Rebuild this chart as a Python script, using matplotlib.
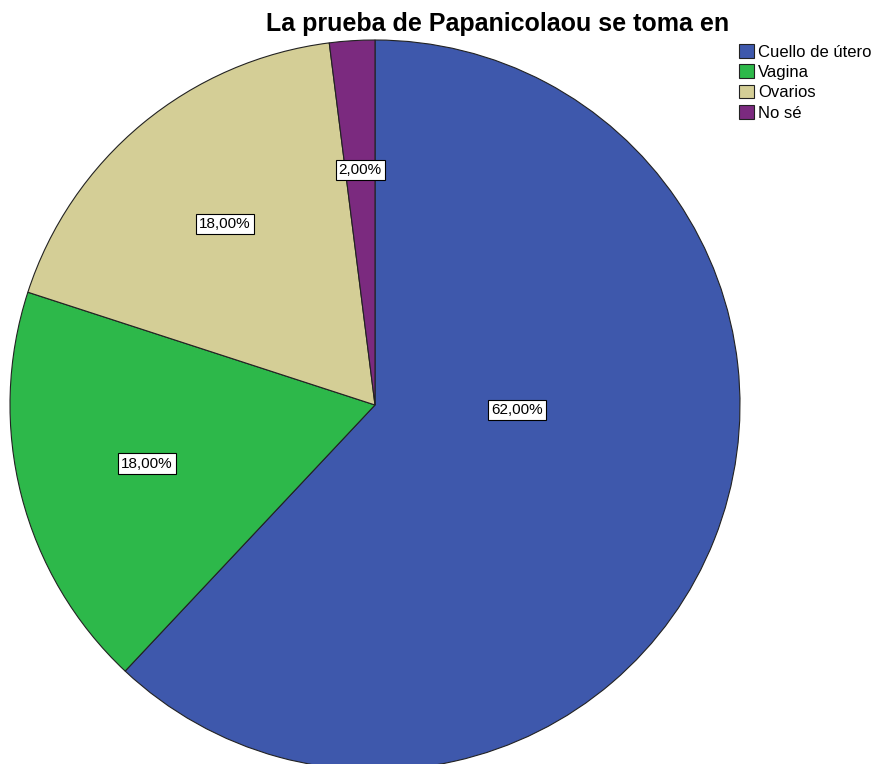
import matplotlib.pyplot as plt
import numpy as np

plt.rcParams['font.family'] = ['Liberation Sans', 'DejaVu Sans']

categorias = ['Cuello de útero', 'Vagina', 'Ovarios', 'No sé']
porcentajes = [62, 18, 18, 2]
colores = ['#3E58AC', '#2DB84A', '#D4CE96', '#7B2A7F']
etiquetas = ['62,00%', '18,00%', '18,00%', '2,00%']

W, H = 878, 764
fig = plt.figure(figsize=(W / 100, H / 100), dpi=100)

# centro del pastel y radio en pixeles
cx, cy, r = 375, 405, 365
ax = fig.add_axes([(cx - r) / W, (H - cy - r) / H, 2 * r / W, 2 * r / H])

wedges, textos = ax.pie(porcentajes, colors=colores, startangle=90, counterclock=False,
                        wedgeprops=dict(edgecolor='#222222', linewidth=0.8))
ax.set_xlim(-1, 1)
ax.set_ylim(-1, 1)
ax.set_aspect('equal')
ax.axis('off')

for i, w in enumerate(wedges):
    ang = np.deg2rad((w.theta1 + w.theta2) / 2)
    d = 0.645
    x, y = d * np.cos(ang), d * np.sin(ang)
    if i == 0:
        # SPSS pone la etiqueta grande más cerca del centro
        x, y = 0.39, -0.014
    ax.text(x, y, etiquetas[i], ha='center', va='center', fontsize=11,
            bbox=dict(boxstyle='square,pad=0.2', fc='white', ec='black', lw=0.8))

fig.text(498 / W, 1 - 24 / H, 'La prueba de Papanicolaou se toma en', ha='center', va='center',
         fontsize=18, fontweight='bold')

fig.legend(wedges, categorias, loc='upper left', bbox_to_anchor=(739 / W, 1 - 44 / H),
           frameon=False, fontsize=12, handlelength=0.9, handleheight=0.9,
           handletextpad=0.25, labelspacing=0.28, borderpad=0, borderaxespad=0)

fig.savefig('out.png', dpi=100)
